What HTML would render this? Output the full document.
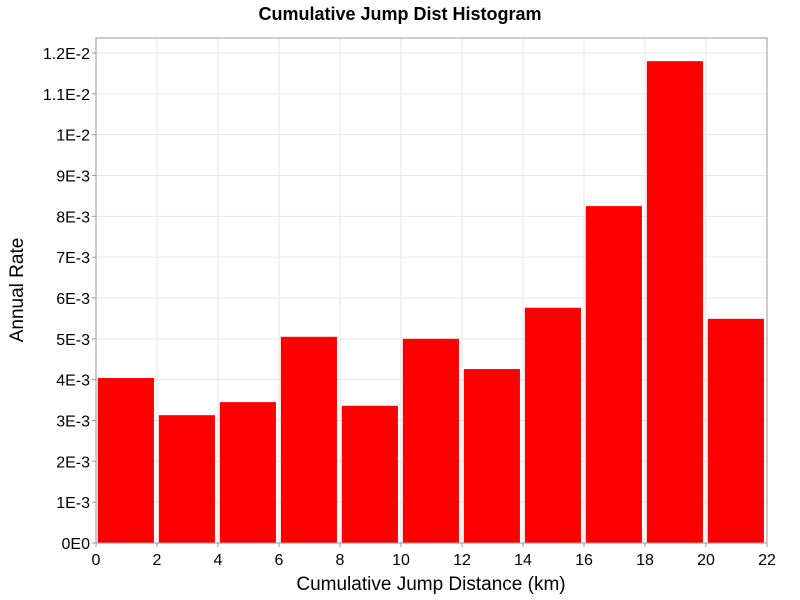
<!DOCTYPE html>
<html><head><meta charset="utf-8"><style>body{margin:0;background:#fff}svg{display:block;font-family:"Liberation Sans","DejaVu Sans",sans-serif}</style></head>
<body>
<svg id="c" width="800" height="600"></svg>
<script>
const binStarts=[0,2,4,6,8,10,12,14,16,18,20];
const rates=[4.04e-3,3.13e-3,3.45e-3,5.05e-3,3.36e-3,5.0e-3,4.26e-3,5.76e-3,8.25e-3,11.8e-3,5.49e-3];
const xTicks=[0,2,4,6,8,10,12,14,16,18,20,22];
const yTicks=[0,1e-3,2e-3,3e-3,4e-3,5e-3,6e-3,7e-3,8e-3,9e-3,10e-3,11e-3,12e-3];
const yLabels=["0E0","1E-3","2E-3","3E-3","4E-3","5E-3","6E-3","7E-3","8E-3","9E-3","1E-2","1.1E-2","1.2E-2"];
const L=96,R=767,T=38,B=543,xMax=22,yMax=12e-3/((543-53)/(543-38));
const sx=v=>L+v/xMax*(R-L), sy=v=>B-v/yMax*(B-T);
const svg=document.getElementById('c');const NS='http://www.w3.org/2000/svg';
function mk(t,a,p){const e=document.createElementNS(NS,t);for(const k in a)e.setAttribute(k,a[k]);(p||svg).appendChild(e);return e;}
const g=mk('g',{});


yTicks.forEach(v=>mk('line',{x1:L,x2:R,y1:sy(v),y2:sy(v),stroke:'#e6e6e6','stroke-width':1},g));
xTicks.forEach(v=>mk('line',{x1:sx(v),x2:sx(v),y1:T,y2:B,stroke:'#e6e6e6','stroke-width':1},g));
rates.forEach((r,i)=>{const x0=Math.max(sx(binStarts[i]+0.06),L+1),x1=sx(binStarts[i]+1.9);
const b=mk('rect',{x:x0,y:sy(r),width:x1-x0,height:B-sy(r),fill:'#ff0000'});

});
const f=mk('rect',{x:L,y:T,width:R-L,height:B-T,fill:'none',stroke:'#999','stroke-width':1});


yTicks.forEach((v,i)=>{mk('line',{x1:L-4,x2:L,y1:sy(v),y2:sy(v),stroke:'#999'});
const t=mk('text',{x:L-6,y:sy(v)+6,'text-anchor':'end','font-size':16,fill:'#000'});t.textContent=yLabels[i];

});
xTicks.forEach(v=>{mk('line',{x1:sx(v),x2:sx(v),y1:B,y2:B+4,stroke:'#999'});
const t=mk('text',{x:sx(v),y:B+22,'text-anchor':'middle','font-size':16,fill:'#000'});t.textContent=v;

});
let t=mk('text',{x:400,y:20,'text-anchor':'middle','font-size':18,'font-weight':'bold'});t.textContent='Cumulative Jump Dist Histogram';


t=mk('text',{x:431,y:590,'text-anchor':'middle','font-size':19});t.textContent='Cumulative Jump Distance (km)';


t=mk('text',{x:23,y:290,'text-anchor':'middle','font-size':19,transform:'rotate(-90 23 290)'});t.textContent='Annual Rate';


</script>
</body></html>
